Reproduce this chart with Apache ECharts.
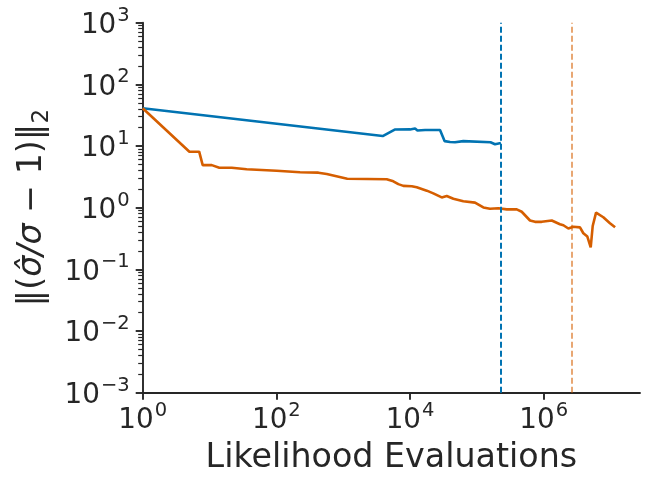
<!DOCTYPE html>
<html lang="en">
<head>
<meta charset="utf-8" />
<title>Likelihood Evaluations</title>
<script src="https://cdn.jsdelivr.net/npm/echarts@6/dist/echarts.min.js"></script>
<style>
  html, body { margin: 0; padding: 0; background: #fff; }
  #chart { width: 648px; height: 487px; }
</style>
</head>
<body>
<div id="chart"></div>
<script>
// blue run (stops at its dashed line)
var blueX = [1, 3900, 5900, 10000, 11900, 12900, 16800, 17800, 28100, 33000, 39700, 47100, 62700, 1.6e5, 1.87e5, 1.98e5, 2.29e5];
var blueY = [41, 14.5, 18.5, 18.6, 19.2, 17.9, 18.2, 17.3, 18.2, 12.0, 11.6, 11.5, 12.0, 11.5, 10.7, 11.0, 11.2];

// orange run
var orangeX = [1, 5.0, 7.0, 7.9, 10.8, 14.0, 21.5, 36, 101, 226,
  425, 567, 1150, 4480, 5620, 6680, 7940, 10600, 12600, 17800,
  22300, 29800, 35400, 44500, 62700, 93800, 1.25e5, 1.57e5, 2.1e5, 2.8e5,
  3.95e5, 4.69e5, 6.24e5, 7.41e5, 7.86e5, 9.34e5, 1.32e6, 1.75e6, 1.97e6, 2.34e6,
  2.77e6, 3.49e6, 3.92e6, 4.5e6, 5.05e6, 5.41e6, 6.07e6, 7.8e6, 9.8e6, 1.17e7];
var orangeY = [41, 8.1, 8.1, 4.9, 4.9, 4.45, 4.45, 4.2, 3.98, 3.75,
  3.7, 3.52, 2.95, 2.89, 2.68, 2.41, 2.26, 2.23, 2.14, 1.89,
  1.71, 1.47, 1.55, 1.40, 1.27, 1.21, 1.01, 0.96, 0.98, 0.94,
  0.94, 0.86, 0.62, 0.59, 0.56, 0.59, 0.62, 0.54, 0.52, 0.46,
  0.49, 0.48, 0.385, 0.34, 0.228, 0.505, 0.83, 0.70, 0.56, 0.48];

// vertical dashed markers
var blueStop = 2.29e5;
var orangeStop = 2.63e6;

var xTicks = [1, 100, 1e4, 1e6];
var yTicks = [1e-3, 1e-2, 1e-1, 1, 10, 100, 1000];
var yMinorTicks = [];
for (var d = -3; d < 3; d++) {
  for (var k = 2; k < 10; k++) yMinorTicks.push(k * Math.pow(10, d));
}

var ink = '#262626';
var fontFam = 'DejaVu Sans';

function pairs(xs, ys) {
  return xs.map(function (x, i) { return [x, ys[i]]; });
}

function powLabel(v) {
  var e = Math.round(Math.log10(v));
  var s = e < 0 ? '\u2212' + (-e) : String(e);
  return '{b|10}{s|' + s + '}';
}

var labelRich = {
  b: { fontSize: 27.8, fontFamily: fontFam, color: ink, lineHeight: 34, verticalAlign: 'bottom' },
  s: { fontSize: 19.5, fontFamily: fontFam, color: ink, lineHeight: 34, verticalAlign: 'top', padding: [0, 0, 0, 1] }
};

var myChart = echarts.init(document.getElementById('chart'));
myChart.setOption({
  animation: false,
  backgroundColor: '#fff',
  grid: { left: 142.7, right: 8, top: 22.7, bottom: 94.3, containLabel: false },
  xAxis: {
    type: 'log',
    logBase: 10,
    min: 1,
    max: 2.76e7,
    name: 'Likelihood Evaluations',
    nameLocation: 'middle',
    nameGap: 48,
    nameTextStyle: { fontSize: 33.3, fontFamily: fontFam, color: ink, lineHeight: 36 },
    axisLine: { show: true, lineStyle: { color: ink, width: 1.9 } },
    axisTick: { show: true, length: 7, customValues: xTicks, lineStyle: { color: ink, width: 1.9 } },
    axisLabel: {
      customValues: xTicks,
      margin: 8,
      formatter: powLabel,
      rich: labelRich
    },
    splitLine: { show: false },
    minorTick: { show: false }
  },
  yAxis: [
    {
      type: 'log',
      logBase: 10,
      min: 1e-3,
      max: 1e3,
      interval: 1,
      name: '{n|\u2016(}{i|\u03c3\u0302/\u03c3}{n| \u2212 1)\u2016}{sub|2}',
      nameLocation: 'middle',
      nameRotate: 90,
      nameGap: 80,
      nameTextStyle: {
        rich: {
          n: { fontSize: 33.3, fontFamily: fontFam, color: ink, lineHeight: 42, verticalAlign: 'middle' },
          i: { fontSize: 33.3, fontFamily: fontFam, fontStyle: 'italic', color: ink, lineHeight: 42, verticalAlign: 'middle' },
          sub: { fontSize: 23, fontFamily: fontFam, color: ink, lineHeight: 42, verticalAlign: 'bottom' }
        }
      },
      axisLine: { show: true, lineStyle: { color: ink, width: 1.9 } },
      axisTick: { show: true, length: 7, customValues: yTicks, lineStyle: { color: ink, width: 1.9 } },
      axisLabel: {
        customValues: yTicks,
        margin: 13,
        formatter: powLabel,
        rich: labelRich
      },
      splitLine: { show: false }
    },
    {
      type: 'log',
      logBase: 10,
      min: 1e-3,
      max: 1e3,
      position: 'left',
      axisLine: { show: false },
      axisTick: { show: true, length: 4.5, customValues: yMinorTicks, lineStyle: { color: ink, width: 1.2 } },
      axisLabel: { show: false },
      splitLine: { show: false }
    }
  ],
  series: [
    {
      name: 'blue',
      type: 'line',
      data: pairs(blueX, blueY),
      showSymbol: false,
      symbol: 'none',
      lineStyle: { color: '#0173B2', width: 2.6 },
      itemStyle: { color: '#0173B2' },
      z: 3,
      markLine: {
        silent: true,
        symbol: 'none',
        label: { show: false },
        lineStyle: { color: '#0173B2', type: [6, 3], width: 2 },
        data: [{ xAxis: blueStop }]
      }
    },
    {
      name: 'orange',
      type: 'line',
      data: pairs(orangeX, orangeY),
      showSymbol: false,
      symbol: 'none',
      lineStyle: { color: '#D55E00', width: 2.6 },
      itemStyle: { color: '#D55E00' },
      z: 3,
      markLine: {
        silent: true,
        symbol: 'none',
        label: { show: false },
        lineStyle: { color: '#D55E00', opacity: 0.55, type: [6, 3], width: 2 },
        data: [{ xAxis: orangeStop }]
      }
    }
  ]
});
</script>
</body>
</html>
